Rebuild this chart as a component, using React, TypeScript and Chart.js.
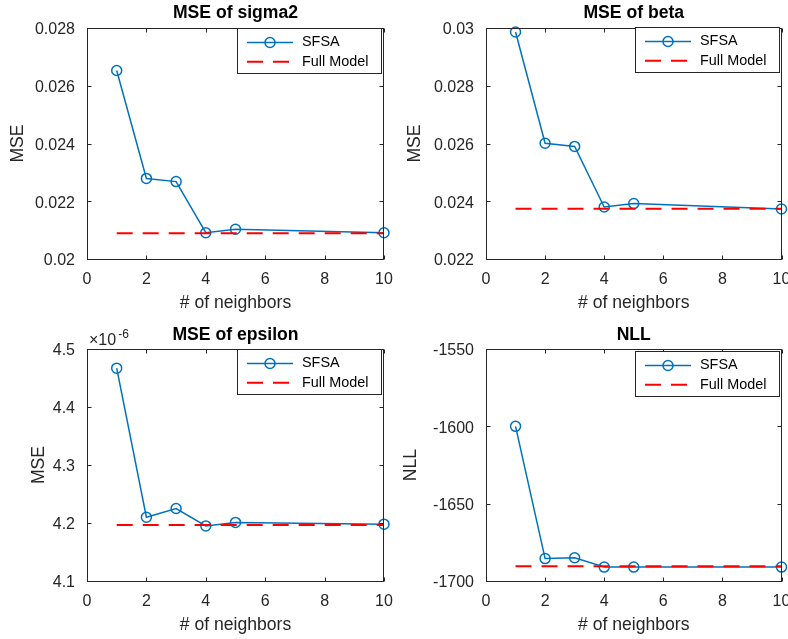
import React, { useEffect, useRef } from "react";
import { Chart, registerables } from "chart.js";
Chart.register(...registerables);

// ---------- data ----------
const neighbors = [1, 2, 3, 4, 5, 10];
const fullModelX = [1, 10];
const xTicks = [0, 2, 4, 6, 8, 10];

const sigma2SFSA = [0.02653, 0.02279, 0.02268, 0.02091, 0.02103, 0.02091];
const sigma2Full = 0.02089;
const sigma2Ticks = [0.02, 0.022, 0.024, 0.026, 0.028];

const betaSFSA = [0.02986, 0.02601, 0.0259, 0.0238, 0.02392, 0.02373];
const betaFull = 0.02374;
const betaTicks = [0.022, 0.024, 0.026, 0.028, 0.03];

const epsilonSFSA = [4.467e-6, 4.21e-6, 4.225e-6, 4.195e-6, 4.201e-6, 4.198e-6];
const epsilonFull = 4.1965e-6;
const epsilonTicks = [4.1e-6, 4.2e-6, 4.3e-6, 4.4e-6, 4.5e-6];

const nllSFSA = [-1600, -1685.5, -1685, -1691, -1691, -1691];
const nllFull = -1690.5;
const nllTicks = [-1700, -1650, -1600, -1550];

const seriesNames = ["SFSA", "Full Model"];
const xLabel = "# of neighbors";

// ---------- style ----------
const FONT = "'Liberation Sans', Arial, Helvetica, sans-serif";
const TXT = "#262626";
const BLUE = "#0072BD";
const RED = "#FF0000";

const fmtPlain = (v: number) => String(Number(v.toFixed(4)));
const fmtE6 = (v: number) => (v * 1e6).toFixed(1);
const fmtInt = (v: number) => String(Math.round(v));

type Panel = {
  title: string;
  ylabel: string;
  sfsa: number[];
  full: number;
  yTicks: number[];
  fmt: (v: number) => string;
  exponent?: string;
  left: number;
  top: number;
  w: number;
  h: number;
  area: { l: number; r: number; t: number; b: number };
  yTitleX: number;
  xTitleY: number;
  titleBase: number;
  legendDy: number;
};

const panels: Panel[] = [
  {
    title: "MSE of sigma2", ylabel: "MSE", sfsa: sigma2SFSA, full: sigma2Full,
    yTicks: sigma2Ticks, fmt: fmtPlain,
    left: 0, top: 0, w: 394, h: 320,
    area: { l: 87, r: 384, t: 28, b: 259 }, yTitleX: 18, xTitleY: 303, titleBase: 17.5, legendDy: 0,
  },
  {
    title: "MSE of beta", ylabel: "MSE", sfsa: betaSFSA, full: betaFull,
    yTicks: betaTicks, fmt: fmtPlain,
    left: 394, top: 0, w: 394, h: 320,
    area: { l: 92, r: 389, t: 28, b: 259 }, yTitleX: 21.5, xTitleY: 303, titleBase: 17.5, legendDy: -1,
  },
  {
    title: "MSE of epsilon", ylabel: "MSE", sfsa: epsilonSFSA, full: epsilonFull,
    yTicks: epsilonTicks, fmt: fmtE6, exponent: "-6",
    left: 0, top: 320, w: 394, h: 319,
    area: { l: 87, r: 384, t: 29, b: 261 }, yTitleX: 39.5, xTitleY: 305, titleBase: 19.5, legendDy: 0,
  },
  {
    title: "NLL", ylabel: "NLL", sfsa: nllSFSA, full: nllFull,
    yTicks: nllTicks, fmt: fmtInt,
    left: 394, top: 320, w: 394, h: 319,
    area: { l: 92, r: 389, t: 29, b: 261 }, yTitleX: 17, xTitleY: 305, titleBase: 20, legendDy: 2,
  },
];

const TICK_SIZE = 16;
const LABEL_SIZE = 17.6;
const LEGEND_SIZE = 14.4;

function makePlugin(p: Panel) {
  return {
    id: "matlabAxes",
    afterDraw(chart: any) {
      const ctx = chart.ctx as CanvasRenderingContext2D;
      const { left, right, top, bottom } = chart.chartArea;
      const xs = chart.scales.x;
      const ys = chart.scales.y;
      const L = Math.round(left) + 0.5;
      const R = Math.round(right) - 0.5;
      const T = Math.round(top) + 0.5;
      const B = Math.round(bottom) + 0.5;
      ctx.save();
      ctx.strokeStyle = TXT;
      ctx.lineWidth = 1;
      ctx.strokeRect(L, T, R - L, B - T);
      ctx.beginPath();
      const tl = 4;
      xTicks.forEach((v) => {
        const px = Math.round(xs.getPixelForValue(v)) + 0.5;
        ctx.moveTo(px, B);
        ctx.lineTo(px, B - tl);
        ctx.moveTo(px, T);
        ctx.lineTo(px, T + tl);
      });
      p.yTicks.forEach((v) => {
        const py = Math.round(ys.getPixelForValue(v)) + 0.5;
        ctx.moveTo(L, py);
        ctx.lineTo(L + tl, py);
        ctx.moveTo(R, py);
        ctx.lineTo(R - tl, py);
      });
      ctx.stroke();

      // title
      ctx.fillStyle = "#000";
      ctx.font = `bold ${LABEL_SIZE}px ${FONT}`;
      ctx.textAlign = "center";
      ctx.textBaseline = "alphabetic";
      ctx.fillText(p.title, (left + right) / 2, p.titleBase);

      // exponent
      if (p.exponent) {
        ctx.fillStyle = TXT;
        ctx.textAlign = "left";
        ctx.font = `${TICK_SIZE}px ${FONT}`;
        const base = "\u00d710";
        ctx.fillText(base, left + 2, top - 4);
        const w = ctx.measureText(base).width;
        ctx.font = `12px ${FONT}`;
        ctx.fillText(p.exponent, left + 2 + w + 2, top - 11);
      }

      // legend
      const lw = 145;
      const lh = 46;
      const lx = Math.round(right) - 2 - lw;
      const ly = Math.round(top) + p.legendDy;
      ctx.fillStyle = "#fff";
      ctx.fillRect(lx, ly, lw, lh);
      ctx.strokeStyle = TXT;
      ctx.lineWidth = 1;
      ctx.strokeRect(lx + 0.5, ly + 0.5, lw - 1, lh - 1);
      const r1 = ly + 14.5;
      const r2 = ly + 33.7;
      // SFSA sample
      ctx.strokeStyle = BLUE;
      ctx.lineWidth = 1.5;
      ctx.beginPath();
      ctx.moveTo(lx + 10, r1);
      ctx.lineTo(lx + 56, r1);
      ctx.stroke();
      ctx.beginPath();
      ctx.arc(lx + 33, r1, 5, 0, Math.PI * 2);
      ctx.stroke();
      // Full model sample
      ctx.strokeStyle = RED;
      ctx.lineWidth = 2;
      ctx.setLineDash([16, 10]);
      ctx.beginPath();
      ctx.moveTo(lx + 10, r2);
      ctx.lineTo(lx + 56, r2);
      ctx.stroke();
      ctx.setLineDash([]);
      ctx.fillStyle = "#000";
      ctx.font = `${LEGEND_SIZE}px ${FONT}`;
      ctx.textAlign = "left";
      ctx.textBaseline = "middle";
      ctx.fillText(seriesNames[0], lx + 65, r1);
      ctx.fillText(seriesNames[1], lx + 65, r2);
      ctx.restore();
    },
  };
}

function PanelChart({ p }: { p: Panel }) {
  const ref = useRef<HTMLCanvasElement | null>(null);
  useEffect(() => {
    if (!ref.current) return;
    const yw = p.area.l;
    const xh = p.h - p.area.b;
    const half = (LABEL_SIZE * 1.2) / 2;
    const chart = new Chart(ref.current, {
      type: "line",
      data: {
        datasets: [
          {
            label: seriesNames[0],
            data: neighbors.map((x, i) => ({ x, y: p.sfsa[i] })),
            borderColor: BLUE,
            borderWidth: 1.5,
            pointRadius: 5,
            pointBorderWidth: 1.5,
            pointBorderColor: BLUE,
            pointBackgroundColor: "rgba(0,0,0,0)",
            pointStyle: "circle",
            tension: 0,
            clip: false as any,
            order: 2,
          },
          {
            label: seriesNames[1],
            data: fullModelX.map((x) => ({ x, y: p.full })),
            borderColor: RED,
            borderWidth: 2,
            borderDash: [16, 10],
            pointRadius: 0,
            tension: 0,
            clip: false as any,
            order: 1,
          },
        ],
      },
      options: {
        responsive: false,
        animation: false,
        events: [],
        devicePixelRatio: 1,
        layout: { padding: { top: p.area.t, right: p.w - p.area.r, left: 0, bottom: 0 } },
        plugins: { legend: { display: false }, tooltip: { enabled: false }, title: { display: false } },
        scales: {
          x: {
            type: "linear",
            min: 0,
            max: 10,
            grid: { display: false, drawTicks: false },
            border: { display: false },
            ticks: {
              color: TXT,
              font: { family: FONT, size: TICK_SIZE },
              padding: 11,
              maxRotation: 0,
              autoSkip: false,
              callback: (v: any) => String(v),
            },
            afterBuildTicks: (s: any) => {
              s.ticks = xTicks.map((value) => ({ value }));
            },
            afterFit: (s: any) => {
              s.height = xh;
              s.paddingLeft = 0;
              s.paddingRight = 0;
            },
            title: {
              display: true,
              text: xLabel,
              color: TXT,
              font: { family: FONT, size: LABEL_SIZE },
              padding: { top: 0, bottom: p.h - p.xTitleY - half },
            },
          },
          y: {
            type: "linear",
            min: p.yTicks[0],
            max: p.yTicks[p.yTicks.length - 1],
            grid: { display: false, drawTicks: false },
            border: { display: false },
            ticks: {
              color: TXT,
              font: { family: FONT, size: TICK_SIZE },
              padding: 12,
              labelOffset: 2,
              autoSkip: false,
              callback: (v: any) => p.fmt(Number(v)),
            },
            afterBuildTicks: (s: any) => {
              s.ticks = p.yTicks.map((value) => ({ value }));
            },
            afterFit: (s: any) => {
              s.width = yw;
              s.paddingTop = 0;
              s.paddingBottom = 0;
              s.paddingLeft = 0;
              s.paddingRight = 0;
            },
            title: {
              display: true,
              text: p.ylabel,
              color: TXT,
              font: { family: FONT, size: LABEL_SIZE },
              padding: { top: p.yTitleX - half, bottom: 0 },
            },
          },
        },
      } as any,
      plugins: [makePlugin(p)],
    });
    return () => chart.destroy();
  }, [p]);
  return (
    <canvas
      ref={ref}
      width={p.w}
      height={p.h}
      style={{ position: "absolute", left: p.left, top: p.top, width: p.w, height: p.h }}
    />
  );
}

export default function App() {
  return (
    <div
      style={{
        position: "absolute",
        left: 0,
        top: 0,
        width: 788,
        height: 639,
        background: "#fff",
        overflow: "hidden",
      }}
    >
      {panels.map((p, i) => (
        <PanelChart key={i} p={p} />
      ))}
    </div>
  );
}
